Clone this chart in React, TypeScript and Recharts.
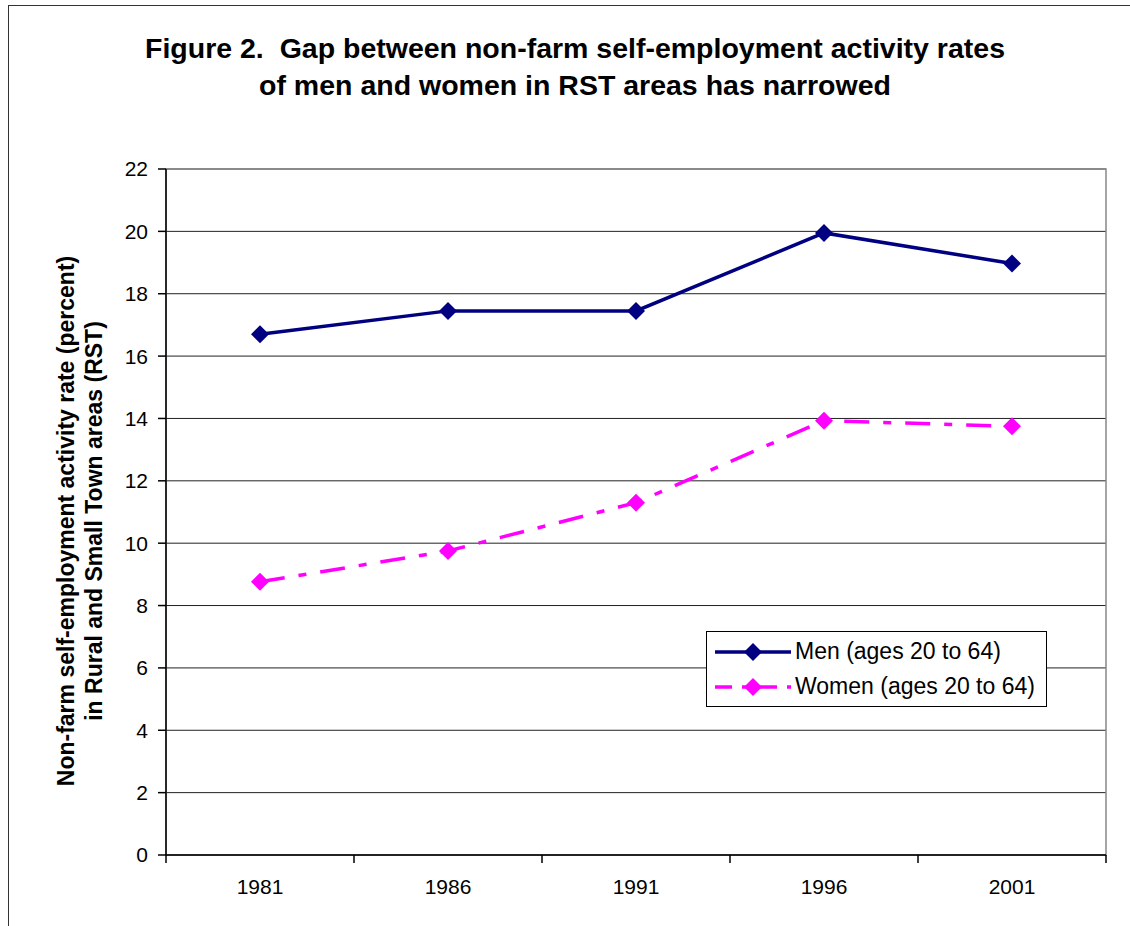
import {
  CartesianGrid,
  Line,
  LineChart,
  ReferenceArea,
  XAxis,
  YAxis,
} from "recharts";

const years = [1981, 1986, 1991, 1996, 2001];
const menRates = [16.7, 17.45, 17.45, 19.95, 18.97];
const womenRates = [8.76, 9.75, 11.3, 13.93, 13.75];
const yTicks = [0, 2, 4, 6, 8, 10, 12, 14, 16, 18, 20, 22];
// category boundaries (Excel style ticks between categories)
const xBounds = [1978.5, 1983.5, 1988.5, 1993.5, 1998.5, 2003.5];

const MEN_COLOR = "#000080";
const WOMEN_COLOR = "#FF00FF";
const WOMEN_DASH = "25 14 8 14";
const FONT = "Arial, 'Liberation Sans', sans-serif";

const data = years.map((year, i) => ({
  year,
  men: menRates[i],
  women: womenRates[i],
}));

function Diamond(props: any) {
  const { cx, cy, fill } = props;
  if (cx == null || cy == null) return null;
  const r = 9;
  return (
    <polygon
      points={`${cx},${cy - r} ${cx + r},${cy} ${cx},${cy + r} ${cx - r},${cy}`}
      fill={fill}
    />
  );
}

function XTick(props: any) {
  const { x, y, payload } = props;
  const v = payload.value;
  if (years.includes(v)) {
    return (
      <text
        x={x}
        y={y + 33}
        textAnchor="middle"
        dominantBaseline="middle"
        fontSize={21}
        fontFamily={FONT}
        fill="#000"
      >
        {v}
      </text>
    );
  }
  return <line x1={x} x2={x} y1={y} y2={y + 8} stroke="#000" strokeWidth={1.5} />;
}

function LegendBox() {
  const rows = [
    { label: "Men (ages 20 to 64)", color: MEN_COLOR, dash: undefined },
    { label: "Women (ages 20 to 64)", color: WOMEN_COLOR, dash: "17 10 8 10" },
  ];
  return (
    <div
      style={{
        position: "absolute",
        left: 706,
        top: 631,
        width: 341,
        height: 76,
        border: "1.5px solid #000",
        background: "#fff",
        padding: "2px 0 0 6px",
        boxSizing: "border-box",
      }}
    >
      {rows.map((r) => (
        <div
          key={r.label}
          style={{ display: "flex", alignItems: "center", height: 35 }}
        >
          <svg width={80} height={20} style={{ marginRight: 2, flex: "none" }}>
            <line
              x1={2}
              x2={78}
              y1={10}
              y2={10}
              stroke={r.color}
              strokeWidth={3.5}
              strokeDasharray={r.dash}
            />
            <Diamond cx={40} cy={10} fill={r.color} />
          </svg>
          <span
            style={{
              fontFamily: FONT,
              fontSize: 23,
              color: "#000",
              whiteSpace: "nowrap",
            }}
          >
            {r.label}
          </span>
        </div>
      ))}
    </div>
  );
}

export default function App() {
  return (
    <div
      style={{
        position: "absolute",
        left: 0,
        top: 0,
        width: 1130,
        height: 926,
        overflow: "hidden",
        background: "#fff",
      }}
    >
      <div
        style={{
          position: "absolute",
          left: 8,
          top: 5,
          width: 1300,
          height: 1100,
          border: "1.5px solid #333",
        }}
      />
      <div
        style={{
          position: "absolute",
          left: 0,
          width: 1150,
          top: 30,
          textAlign: "center",
          fontFamily: FONT,
          fontWeight: "bold",
          fontSize: 28.5,
          lineHeight: "37px",
          whiteSpace: "pre",
          color: "#000",
        }}
      >
        {"Figure 2.  Gap between non-farm self-employment activity rates\nof men and women in RST areas has narrowed"}
      </div>
      <div
        style={{
          position: "absolute",
          left: 80,
          top: 521,
          width: 700,
          transform: "translate(-50%, -50%) rotate(-90deg)",
          textAlign: "center",
          fontFamily: FONT,
          fontWeight: "bold",
          fontSize: 23,
          lineHeight: "28px",
          color: "#000",
        }}
      >
        Non-farm self-employment activity rate (percent)
        <br />
        in Rural and Small Town areas (RST)
      </div>
      <LineChart
        width={1130}
        height={926}
        data={data}
        margin={{ top: 169, right: 24, left: 106, bottom: 11 }}
        style={{ position: "absolute", left: 0, top: 0 }}
      >
        <CartesianGrid vertical={false} stroke="#222" strokeWidth={1} />
        <ReferenceArea
          x1={xBounds[0]}
          x2={xBounds[xBounds.length - 1]}
          y1={0}
          y2={22}
          fill="none"
          stroke="#888"
          strokeWidth={1.5}
        />
        <XAxis
          dataKey="year"
          type="number"
          domain={[xBounds[0], xBounds[xBounds.length - 1]]}
          ticks={[...xBounds, ...years].sort((a, b) => a - b)}
          interval={0}
          tick={<XTick />}
          tickLine={false}
          tickSize={0}
          tickMargin={0}
          height={60}
          axisLine={{ stroke: "#000", strokeWidth: 1.5 }}
        />
        <YAxis
          domain={[0, 22]}
          ticks={yTicks}
          interval={0}
          width={60}
          tickSize={8}
          tickMargin={10}
          tick={{ fontSize: 21, fill: "#000", fontFamily: FONT }}
          tickLine={{ stroke: "#000", strokeWidth: 1.5 }}
          axisLine={{ stroke: "#000", strokeWidth: 1.5 }}
        />
        <Line
          type="linear"
          dataKey="men"
          stroke={MEN_COLOR}
          strokeWidth={3.5}
          dot={<Diamond fill={MEN_COLOR} />}
          activeDot={false}
          isAnimationActive={false}
        />
        <Line
          type="linear"
          dataKey="women"
          stroke={WOMEN_COLOR}
          strokeWidth={3.5}
          strokeDasharray={WOMEN_DASH}
          dot={<Diamond fill={WOMEN_COLOR} />}
          activeDot={false}
          isAnimationActive={false}
        />
      </LineChart>
      <LegendBox />
    </div>
  );
}
